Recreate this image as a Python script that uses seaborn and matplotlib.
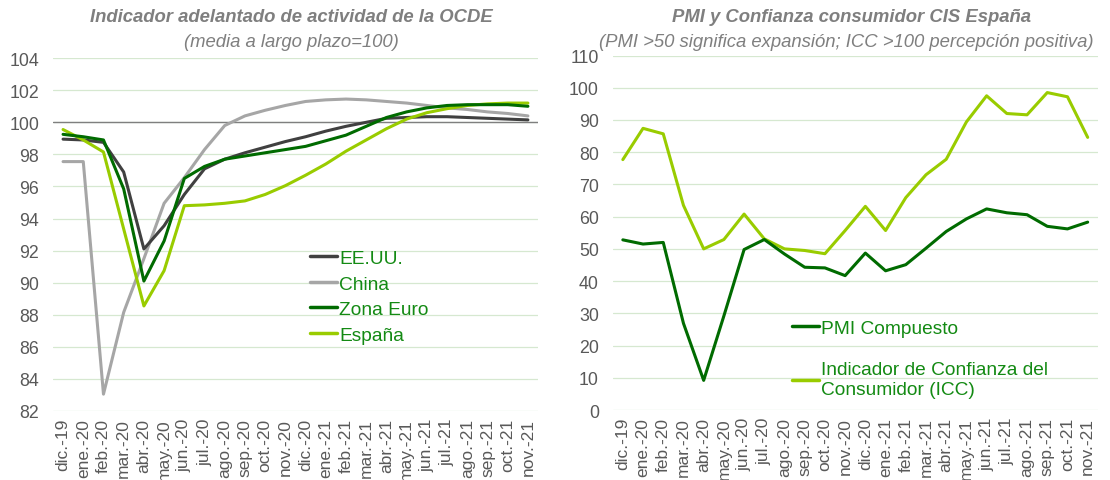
import numpy as np
import pandas as pd
import matplotlib.pyplot as plt
import seaborn as sns
from matplotlib.lines import Line2D

# Etiquetas de meses
meses = ['dic.-19', 'ene.-20', 'feb.-20', 'mar.-20', 'abr.-20', 'may.-20', 'jun.-20',
         'jul.-20', 'ago.-20', 'sep.-20', 'oct.-20', 'nov.-20', 'dic.-20', 'ene.-21',
         'feb.-21', 'mar.-21', 'abr.-21', 'may.-21', 'jun.-21', 'jul.-21', 'ago.-21',
         'sep.-21', 'oct.-21', 'nov.-21']

# Indicador adelantado OCDE
eeuu = [98.95, 98.9, 98.75, 96.9, 92.1, 93.55, 95.5, 97.1, 97.7, 98.1, 98.45, 98.8,
        99.1, 99.45, 99.75, 100.0, 100.25, 100.3, 100.35, 100.35, 100.3, 100.25, 100.2, 100.15]
china = [97.55, 97.55, 83.05, 88.15, 91.5, 94.95, 96.55, 98.3, 99.8, 100.4, 100.75, 101.05,
         101.3, 101.4, 101.45, 101.4, 101.3, 101.2, 101.05, 100.9, 100.8, 100.65, 100.55, 100.4]
zona_euro = [99.25, 99.1, 98.9, 95.85, 90.1, 92.6, 96.5, 97.25, 97.7, 97.9, 98.1, 98.3,
             98.5, 98.85, 99.2, 99.75, 100.3, 100.65, 100.9, 101.05, 101.1, 101.1, 101.1, 101.0]
espana = [99.55, 98.9, 98.15, 93.35, 88.55, 90.75, 94.8, 94.85, 94.95, 95.1, 95.5, 96.05,
          96.7, 97.4, 98.2, 98.9, 99.6, 100.2, 100.6, 100.85, 101.05, 101.15, 101.2, 101.2]

# PMI y confianza del consumidor
pmi = [52.8, 51.5, 52.0, 26.9, 9.2, 29.2, 49.8, 52.9, 48.4, 44.3, 44.1, 41.7,
       48.7, 43.2, 45.1, 50.2, 55.4, 59.3, 62.4, 61.2, 60.6, 57.0, 56.2, 58.3]
icc = [77.7, 87.4, 85.7, 63.5, 50.0, 52.9, 60.8, 53.1, 50.0, 49.5, 48.5, 55.7,
       63.2, 55.7, 65.9, 73.0, 77.8, 89.4, 97.5, 92.0, 91.6, 98.5, 97.2, 84.6]

GRIS_OSC = '#404040'
GRIS_CLA = '#a6a6a6'
VERDE_OSC = '#006b00'
VERDE_CLA = '#99cc00'
TXT_VERDE = '#138a13'
TXT_GRIS = '#595959'
GRID = '#d6e8d0'

sns.set_style('white')
plt.rcParams['font.family'] = ['Liberation Sans', 'DejaVu Sans']


def preparar_eje(ax, ymin, ymax, paso):
    ax.set_xlim(-0.5, len(meses) - 0.5)
    ax.set_ylim(ymin, ymax)
    ax.set_yticks(np.arange(ymin, ymax + 0.1, paso))
    ax.set_xticks(range(len(meses)))
    ax.set_xticklabels(meses, rotation=90, fontsize=12.5, color=TXT_GRIS)
    ax.tick_params(axis='y', labelsize=12.8, labelcolor=TXT_GRIS, length=0, pad=10)
    ax.tick_params(axis='x', length=0, pad=5)
    ax.yaxis.grid(True, color=GRID, lw=0.9)
    ax.xaxis.grid(False)
    ax.set_xlabel('')
    ax.set_ylabel('')
    for s in ax.spines.values():
        s.set_visible(False)


fig = plt.figure(figsize=(11.1, 4.81), dpi=100)
ax1 = fig.add_axes([0.0477, 0.1435, 0.437, 0.7335])
ax2 = fig.add_axes([0.552, 0.1455, 0.437, 0.737])

# Panel izquierdo
df1 = pd.DataFrame({'idx': np.tile(np.arange(len(meses)), 4),
                    'valor': eeuu + china + zona_euro + espana,
                    'serie': np.repeat(['EE.UU.', 'China', 'Zona Euro', 'España'], len(meses))})
pal1 = {'EE.UU.': GRIS_OSC, 'China': GRIS_CLA, 'Zona Euro': VERDE_OSC, 'España': VERDE_CLA}
ax1.axhline(100, color='#7f7f7f', lw=1, zorder=1)
sns.lineplot(data=df1, x='idx', y='valor', hue='serie', palette=pal1,
             hue_order=['China', 'EE.UU.', 'España', 'Zona Euro'],
             linewidth=2.2, ax=ax1, legend=False, zorder=3)
preparar_eje(ax1, 82, 104, 2)
handles1 = [Line2D([], [], color=pal1[k], lw=2.5) for k in ['EE.UU.', 'China', 'Zona Euro', 'España']]
ax1.legend(handles1, ['EE.UU.', 'China', 'Zona Euro', 'España'], loc='center left',
           bbox_to_anchor=(0.53, 0.324), frameon=False, fontsize=13.8, labelcolor=TXT_VERDE,
           handlelength=1.4, handletextpad=0.12, labelspacing=0.42, borderpad=0, borderaxespad=0)

# Panel derecho
df2 = pd.DataFrame({'idx': np.tile(np.arange(len(meses)), 2),
                    'valor': pmi + icc,
                    'serie': np.repeat(['PMI Compuesto', 'ICC'], len(meses))})
pal2 = {'PMI Compuesto': VERDE_OSC, 'ICC': VERDE_CLA}
sns.lineplot(data=df2, x='idx', y='valor', hue='serie', palette=pal2,
             hue_order=['ICC', 'PMI Compuesto'], linewidth=2.2, ax=ax2, legend=False, zorder=3)
preparar_eje(ax2, 0, 110, 10)
handles2 = [Line2D([], [], color=VERDE_OSC, lw=2.5), Line2D([], [], color=VERDE_CLA, lw=2.5)]
ax2.legend(handles2, ['PMI Compuesto', 'Indicador de Confianza del\nConsumidor (ICC)'],
           loc='center left', bbox_to_anchor=(0.369, 0.145), frameon=False, fontsize=13.8,
           labelcolor=TXT_VERDE, handlelength=1.4, handletextpad=0.12, labelspacing=1.3,
           borderpad=0, borderaxespad=0)

# Titulos
c1 = 0.0477 + 0.437 / 2
c2 = 0.552 + 0.437 / 2
fig.text(c1 - 0.004, 0.964, 'Indicador adelantado de actividad de la OCDE', ha='center', va='center',
         fontsize=13.3, fontweight='bold', fontstyle='italic', color='#7f7f7f')
fig.text(c1 - 0.004, 0.912, '(media a largo plazo=100)', ha='center', va='center',
         fontsize=13.3, fontstyle='italic', color='#7f7f7f')
fig.text(c2 - 0.003, 0.964, 'PMI y Confianza consumidor CIS España', ha='center', va='center',
         fontsize=13.3, fontweight='bold', fontstyle='italic', color='#7f7f7f')
fig.text(c2 - 0.008, 0.912, '(PMI >50 significa expansión; ICC >100 percepción positiva)',
         ha='center', va='center', fontsize=13.3, fontstyle='italic', color='#7f7f7f')

fig.savefig('out.png', dpi=100)
